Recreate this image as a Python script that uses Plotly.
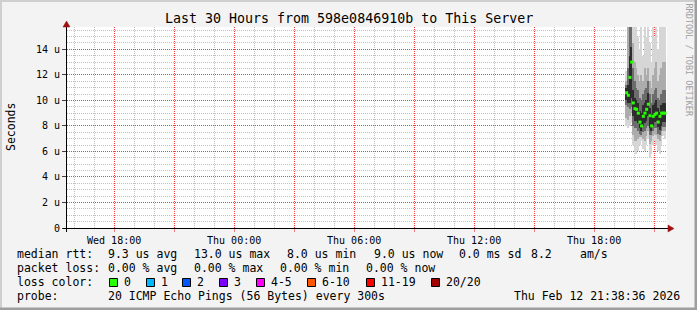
import math
import plotly.graph_objects as go
from datetime import datetime, timedelta

# ---------------- data ----------------
title_text = "Last 30 Hours from 598e0846910b to This Server"
y_title = "Seconds"
watermark = "RRDTOOL / TOBI OETIKER"

x_start = datetime(2026, 2, 11, 15, 38, 36)
x_end = datetime(2026, 2, 12, 21, 38, 36)

x_tickvals = ["2026-02-11 18:00", "2026-02-11 21:00", "2026-02-12 00:00", "2026-02-12 03:00",
              "2026-02-12 06:00", "2026-02-12 09:00", "2026-02-12 12:00", "2026-02-12 15:00",
              "2026-02-12 18:00", "2026-02-12 21:00"]
x_ticktext = ["Wed 18:00", "", "Thu 00:00", "", "Thu 06:00", "", "Thu 12:00", "", "Thu 18:00", ""]

y_tickvals = [0, 2, 4, 6, 8, 10, 12, 14]
y_ticktext = ["0", "2 u", "4 u", "6 u", "8 u", "10 u", "12 u", "14 u"]

first_step = datetime(2026, 2, 12, 19, 35, 0)
step_seconds = 300

# median rtt per 5-minute step (micro-seconds)
median = [10.6, 10.4, 11.8, 13.0, 9.8, 9.35, 9.3, 9.0, 8.3, 8.0, 8.75, 9.0,
          9.3, 9.7, 8.8, 8.0, 8.75, 8.9, 9.0, 8.3, 8.75, 9.0, 9.0, 9.0]

# smoke bands (outer -> core), micro-seconds
outer_lo = [8.0, 7.8, 8.0, 8.2, 6.5, 6.0, 5.8, 6.0, 6.5, 6.8, 6.2, 6.0, 6.5, 7.0, 5.5, 5.8, 6.5, 6.8, 6.5, 6.0, 5.8, 6.5, 7.2, 7.0]
outer_hi = [12.3, 15.8, 15.8, 15.8, 15.8, 15.8, 15.8, 15.0, 14.0, 15.8, 13.5, 15.8, 15.0, 15.8, 14.5, 13.0, 15.8, 15.0, 15.8, 14.0, 15.8, 15.8, 15.8, 15.8]
mid_lo = [8.6, 8.5, 8.8, 9.0, 7.3, 6.8, 6.8, 7.0, 7.1, 7.1, 7.0, 6.8, 7.2, 7.6, 6.6, 6.8, 7.2, 7.4, 7.3, 7.0, 6.8, 7.2, 7.6, 7.6]
mid_hi = [11.5, 15.8, 15.8, 15.8, 14.5, 13.0, 12.5, 12.0, 11.5, 12.0, 11.5, 12.5, 12.0, 12.5, 11.5, 11.0, 12.0, 12.5, 13.0, 11.5, 12.0, 12.5, 13.0, 13.0]
inner_lo = [9.6, 9.5, 9.3, 9.5, 8.0, 7.8, 7.8, 7.6, 7.4, 7.3, 7.5, 7.6, 7.8, 8.0, 7.3, 7.3, 7.6, 7.8, 7.8, 7.4, 7.3, 7.6, 7.9, 7.9]
inner_hi = [11.2, 12.5, 15.8, 15.8, 12.5, 11.5, 11.0, 10.8, 10.2, 10.0, 10.5, 10.8, 11.0, 11.5, 10.5, 9.8, 10.5, 10.8, 11.0, 10.2, 10.0, 10.5, 10.8, 10.8]
core_lo = [10.0, 9.8, 9.8, 10.2, 8.8, 8.4, 8.4, 8.2, 7.8, 7.6, 8.0, 8.2, 8.4, 8.8, 7.8, 7.6, 8.0, 8.3, 8.4, 7.9, 7.7, 8.0, 8.3, 8.3]
core_hi = [11.0, 11.2, 13.5, 14.2, 10.8, 10.2, 10.0, 9.8, 9.2, 9.0, 9.6, 9.8, 10.0, 10.6, 9.4, 8.9, 9.6, 9.8, 10.0, 9.4, 9.1, 9.6, 9.8, 9.8]

legend_rtt = [("median rtt:", 16), ("9.3 us avg", 107), ("13.0 us max", 193), ("8.0 us min", 286),
              ("9.0 us now", 373), ("0.0 ms sd", 458), ("8.2", 530), ("am/s", 579)]
legend_loss = [("packet loss:", 16), ("0.00 % avg", 107), ("0.00 % max", 193), ("0.00 % min", 279),
               ("0.00 % now", 365)]
loss_labels = ["0", "1", "2", "3", "4-5", "6-10", "11-19", "20/20"]
loss_colors = ["#26ff00", "#00b8ff", "#0059ff", "#7e00ff", "#ff00ff", "#ff5500", "#ff0000", "#a10000"]
loss_box_x = [109, 146, 182, 219, 256, 307, 366, 431]
probe_label = "probe:"
probe_text = "20 ICMP Echo Pings (56 Bytes) every 300s"
date_text = "Thu Feb 12 21:38:36 2026"

# ---------------- layout geometry ----------------
W, H = 697, 310
PL, PR, PT, PB = 67, 667, 27, 228
FONT = "DejaVu Sans Mono"
Y_MAX = 15.75


def px(xp):
    return (xp - PL) / (PR - PL)


def py(yp):
    return (PB - yp) / (PB - PT)


def t_to_pix(t):
    return PL + (t - x_start).total_seconds() / (x_end - x_start).total_seconds() * (PR - PL)


def v_to_pix(v):
    return PB - v / Y_MAX * (PB - PT)


steps = [first_step + timedelta(seconds=step_seconds * i) for i in range(len(median))]
centers = [s + timedelta(seconds=step_seconds / 2) for s in steps]

fig = go.Figure()
bands = [(outer_lo, outer_hi, "#d6d6d6"), (mid_lo, mid_hi, "#acacac"),
         (inner_lo, inner_hi, "#6c6c6c"), (core_lo, core_hi, "#2c2c2c")]
for lo, hi, col in bands:
    fig.add_trace(go.Bar(
        x=steps, y=[h_ - l_ for l_, h_ in zip(lo, hi)], base=lo,
        width=step_seconds * 1000, offset=0,
        marker=dict(color=col, line=dict(width=0)),
        showlegend=False, hoverinfo="skip"))

fig.add_trace(go.Scatter(
    x=centers, y=median, mode="markers",
    marker=dict(symbol="square", size=3, color=loss_colors[0], line=dict(width=0)),
    showlegend=False, hoverinfo="skip"))

ann = []
ann.append(dict(text=title_text, x=px(348.5), y=py(19), xref="paper", yref="paper",
                showarrow=False, xanchor="center", yanchor="middle",
                font=dict(family=FONT, size=13.3, color="#000000")))
ann.append(dict(text=y_title, x=px(11), y=py(127), xref="paper", yref="paper",
                showarrow=False, xanchor="center", yanchor="middle", textangle=-90,
                font=dict(family=FONT, size=11.5, color="#000000")))
ann.append(dict(text=watermark, x=px(688.5), y=py(60), xref="paper", yref="paper",
                showarrow=False, xanchor="center", yanchor="middle", textangle=90,
                font=dict(family=FONT, size=8.5, color="#a0a0a0")))


def txt(t, xp, yp):
    ann.append(dict(text=t.replace(" ", "&nbsp;"), x=px(xp), y=py(yp), xref="paper", yref="paper",
                    showarrow=False, xanchor="left", yanchor="middle", borderpad=0,
                    font=dict(family=FONT, size=11.5, color="#000000")))


for t, xp in legend_rtt:
    txt(t, xp, 254)
for t, xp in legend_loss:
    txt(t, xp, 268)
txt("loss color:", 16, 282)
for lab, bx in zip(loss_labels, loss_box_x):
    txt(lab, bx + 14, 282)
txt(probe_label, 16, 296)
txt(probe_text, 107, 296)
txt(date_text, 513, 296)

shapes = []

# ---- grid lines (crisp, dotted), minor gray every hour / 0.5 u, major red every 3 h / 2 u
MAJ = "#ff3a3a"
MIN = "#c0c0c0"
DASH = "1px,1px"
minor_path, major_path = [], []
h = datetime(2026, 2, 11, 16, 0)
while h <= x_end:
    xp_ = math.floor(t_to_pix(h)) + 0.5
    seg = f"M {px(xp_)} {py(PT)} L {px(xp_)} {py(PB)}"
    (major_path if h.hour % 3 == 0 else minor_path).append(seg)
    h += timedelta(hours=1)
k = 1
while k * 0.5 <= Y_MAX:
    v = k * 0.5
    yp_ = math.floor(v_to_pix(v)) + 0.5
    seg = f"M {px(PL)} {py(yp_)} L {px(PR)} {py(yp_)}"
    (major_path if v % 2 == 0 else minor_path).append(seg)
    k += 1
shapes.append(dict(type="path", xref="paper", yref="paper", path=" ".join(minor_path),
                   line=dict(color=MIN, width=1, dash=DASH), layer="below"))
shapes.append(dict(type="path", xref="paper", yref="paper", path=" ".join(major_path),
                   line=dict(color=MAJ, width=1, dash=DASH), layer="below"))

for col, bx in zip(loss_colors, loss_box_x):
    shapes.append(dict(type="rect", xref="paper", yref="paper",
                       x0=px(bx + 0.5), x1=px(bx + 8.5), y0=py(286.5), y1=py(278.5),
                       fillcolor=col, line=dict(color="#000000", width=1)))

# axis lines with arrows
shapes.append(dict(type="line", xref="paper", yref="paper", x0=px(63), x1=px(669),
                   y0=py(228.5), y1=py(228.5), line=dict(color="#000000", width=1)))
shapes.append(dict(type="line", xref="paper", yref="paper", x0=px(66.5), x1=px(66.5),
                   y0=py(232), y1=py(25), line=dict(color="#000000", width=1)))
shapes.append(dict(type="path", xref="paper", yref="paper",
                   path=f"M {px(668)} {py(225)} L {px(674)} {py(228.5)} L {px(668)} {py(232)} Z",
                   fillcolor="#a01010", line=dict(color="#a01010", width=0.5)))
shapes.append(dict(type="path", xref="paper", yref="paper",
                   path=f"M {px(63)} {py(27)} L {px(66.5)} {py(21)} L {px(70)} {py(27)} Z",
                   fillcolor="#a01010", line=dict(color="#a01010", width=0.5)))

# frame (shade)
shapes.append(dict(type="rect", xref="paper", yref="paper", x0=px(0), x1=px(2), y0=py(310), y1=py(0),
                   fillcolor="#cfcfcf", line=dict(width=0), layer="below"))
shapes.append(dict(type="rect", xref="paper", yref="paper", x0=px(0), x1=px(697), y0=py(2), y1=py(0),
                   fillcolor="#cfcfcf", line=dict(width=0), layer="below"))
shapes.append(dict(type="rect", xref="paper", yref="paper", x0=px(694.5), x1=px(697), y0=py(310), y1=py(0),
                   fillcolor="#9e9e9e", line=dict(width=0), layer="below"))
shapes.append(dict(type="rect", xref="paper", yref="paper", x0=px(0), x1=px(697), y0=py(310), y1=py(307.5),
                   fillcolor="#9e9e9e", line=dict(width=0), layer="below"))

fig.update_layout(
    width=W, height=H,
    margin=dict(l=PL, r=W - PR, t=PT, b=H - PB, pad=0),
    paper_bgcolor="#f3f3f3", plot_bgcolor="#ffffff",
    barmode="overlay", bargap=0, showlegend=False,
    annotations=ann, shapes=shapes,
    font=dict(family=FONT, size=10, color="#000000"),
    xaxis=dict(
        type="date", range=[x_start, x_end], fixedrange=True,
        tickmode="array", tickvals=x_tickvals, ticktext=x_ticktext,
        showgrid=False, ticks="outside", ticklen=3, tickcolor="#f08080",
        tickfont=dict(family=FONT, size=10, color="#000000"),
        showline=False, zeroline=False,
    ),
    yaxis=dict(
        range=[0, Y_MAX], fixedrange=True,
        tickmode="array", tickvals=y_tickvals, ticktext=y_ticktext,
        showgrid=False, ticks="outside", ticklen=4, tickcolor="#404040",
        tickfont=dict(family=FONT, size=10, color="#000000"),
        showline=False, zeroline=False,
    ),
)

fig.write_html("out.html")
